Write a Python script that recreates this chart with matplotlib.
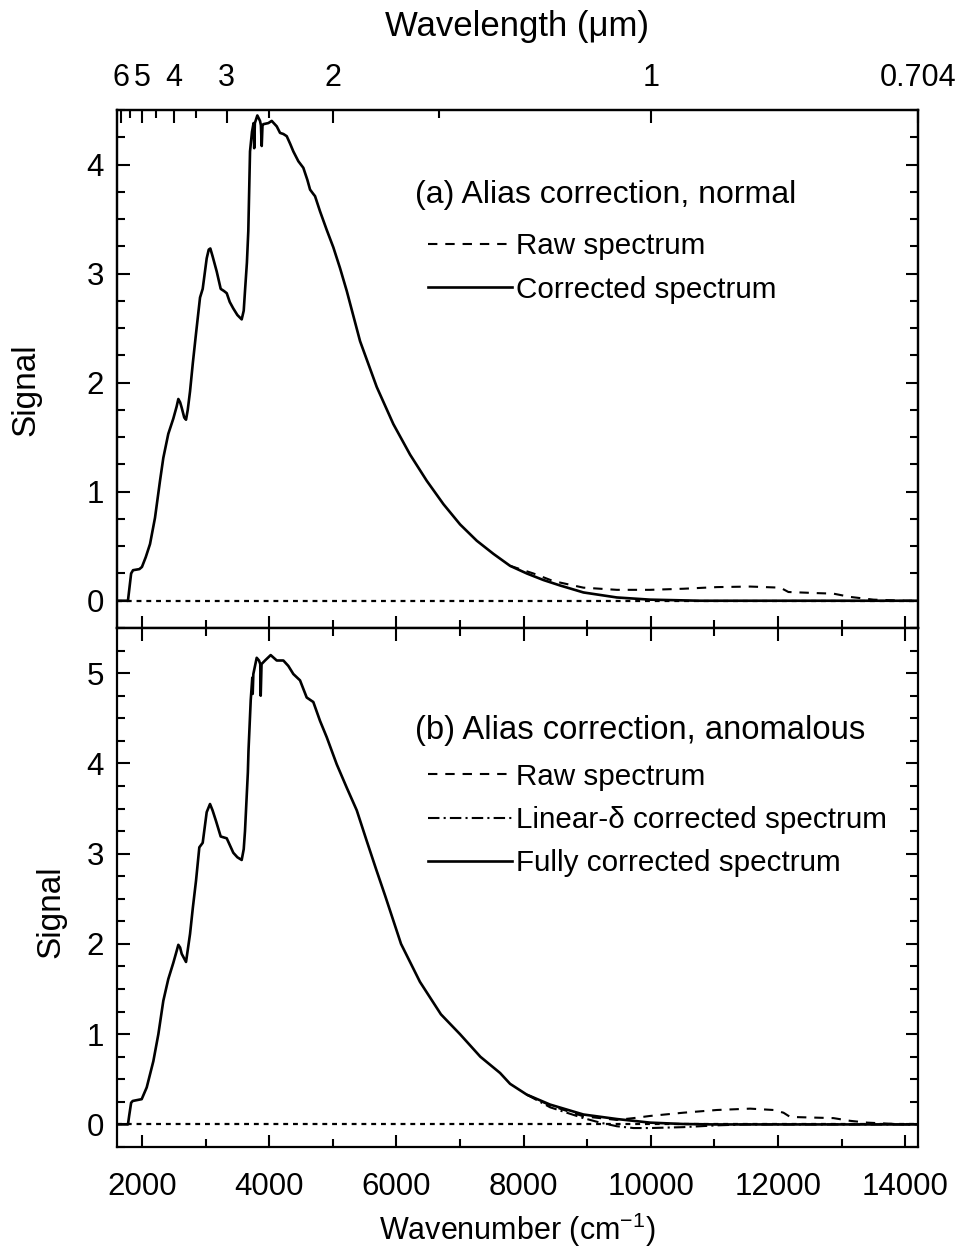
import numpy as np
import matplotlib
matplotlib.use("Agg")
import matplotlib.pyplot as plt
from matplotlib.ticker import MultipleLocator, FixedLocator, NullFormatter

plt.rcParams['font.family'] = ['Liberation Sans', 'DejaVu Sans']
plt.rcParams['mathtext.default'] = 'regular'

# ---------------- data ----------------
# (a) normal: corrected spectrum
a_corr_x = [1600, 1780, 1800, 1830, 1860, 1960, 2000, 2060, 2127, 2205, 2284, 2336, 2414, 2493,
            2545, 2572, 2600, 2625, 2665, 2693, 2720, 2756, 2800, 2850, 2913, 2955, 3018, 3050,
            3075, 3110, 3175, 3238, 3290, 3333, 3380, 3436, 3500, 3568, 3600, 3620, 3650, 3672,
            3699, 3730, 3755, 3765, 3775, 3814, 3856, 3870, 3883, 3895, 3908, 3987, 4040, 4119,
            4171, 4223, 4276, 4330, 4380, 4459, 4537, 4600, 4643, 4694, 4721, 4800, 4905, 5009,
            5114, 5220, 5429, 5691, 5952, 6215, 6477, 6739, 7001, 7264, 7525, 7787, 8050, 8311,
            8573, 8940, 9465, 9988, 10775, 14204.5]
a_corr_y = [0, 0, 0.10, 0.25, 0.28, 0.29, 0.31, 0.40, 0.52, 0.76, 1.10, 1.31, 1.53, 1.67,
            1.78, 1.85, 1.82, 1.77, 1.68, 1.66, 1.75, 1.92, 2.18, 2.45, 2.78, 2.86, 3.14, 3.22,
            3.23, 3.16, 3.02, 2.86, 2.84, 2.82, 2.74, 2.68, 2.62, 2.58, 2.66, 2.84, 3.10, 3.39,
            4.12, 4.30, 4.38, 4.15, 4.38, 4.45, 4.40, 4.36, 4.17, 4.36, 4.37, 4.38, 4.40, 4.35,
            4.29, 4.28, 4.26, 4.19, 4.12, 4.03, 3.97, 3.86, 3.77, 3.73, 3.71, 3.57, 3.40, 3.24,
            3.05, 2.84, 2.38, 1.96, 1.62, 1.34, 1.10, 0.886, 0.70, 0.55, 0.43, 0.32, 0.25, 0.19,
            0.14, 0.076, 0.03, 0.01, 0.0, 0.0]

# (a) normal: raw spectrum (deviates at high wavenumber)
a_raw_x = [7787, 8154, 8468, 8940, 9465, 9988, 10512, 11037, 11561, 12033, 12100, 12163,
           12609, 12871, 13133, 13500, 14000, 14204.5]
a_raw_y = [0.32, 0.25, 0.18, 0.12, 0.10, 0.10, 0.11, 0.125, 0.13, 0.12, 0.10, 0.08,
           0.07, 0.065, 0.035, 0.01, 0.0, 0.0]

# (b) anomalous: fully corrected spectrum
b_full_x = [1600, 1780, 1800, 1830, 1855, 1996, 2075, 2179, 2258, 2336, 2414, 2493, 2545,
            2572, 2600, 2625, 2693, 2756, 2800, 2850, 2902, 2955, 3018, 3070, 3110, 3165,
            3238, 3333, 3436, 3500, 3568, 3600, 3620, 3665, 3675, 3710, 3735, 3741, 3751,
            3804, 3840, 3860, 3867, 3880, 3935, 4024, 4119, 4223, 4301, 4380, 4485, 4590,
            4694, 4800, 4905, 5062, 5220, 5377, 5534, 5680, 5825, 6073, 6370, 6700, 7000,
            7320, 7630, 7787, 8050, 8416, 8940, 9465, 9988, 10500, 11000, 14204.5]
b_full_y = [0, 0, 0.10, 0.24, 0.26, 0.28, 0.41, 0.70, 1.00, 1.37, 1.61, 1.79, 1.92,
            1.99, 1.96, 1.89, 1.80, 2.11, 2.40, 2.70, 3.07, 3.12, 3.46, 3.55, 3.48, 3.36,
            3.19, 3.17, 3.01, 2.96, 2.93, 3.05, 3.25, 3.90, 4.14, 4.70, 4.95, 4.77, 4.99,
            5.17, 5.14, 5.10, 4.75, 5.10, 5.14, 5.20, 5.14, 5.14, 5.08, 4.99, 4.92, 4.73,
            4.68, 4.47, 4.29, 3.99, 3.73, 3.48, 3.14, 2.83, 2.53, 2.00, 1.58, 1.22, 1.00,
            0.75, 0.57, 0.45, 0.33, 0.22, 0.11, 0.06, 0.02, 0.005, 0.0, 0.0]

# (b) anomalous: linear-delta corrected spectrum
b_lin_x = [8050, 8416, 8940, 9203, 9465, 9727, 9988, 10512, 11037, 11500, 14204.5]
b_lin_y = [0.33, 0.19, 0.07, 0.02, -0.02, -0.04, -0.04, -0.03, -0.01, 0.0, 0.0]

# (b) anomalous: raw spectrum
b_raw_x = [8050, 8416, 8940, 9465, 9727, 9988, 10512, 11037, 11561, 11928, 12085, 12190,
           12609, 12871, 13133, 13400, 14000, 14204.5]
b_raw_y = [0.33, 0.21, 0.09, 0.05, 0.07, 0.094, 0.13, 0.16, 0.175, 0.16, 0.13, 0.083,
           0.075, 0.07, 0.04, 0.02, 0.0, 0.0]

wl_major = [6, 5, 4, 3, 2, 1, 0.704]
wl_major_labels = ['6', '5', '4', '3', '2', '1', '0.704']
wl_minor = [5.5, 4.5, 3.5, 2.5, 1.5]

XMIN, XMAX = 1600, 1e4 / 0.704

# ---------------- figure ----------------
FS_TITLE = 23
FS_LEG = 21.3
fig = plt.figure(figsize=(9.57, 12.5), dpi=100)
L, R = 116.5 / 957, 918.3 / 957
ax1 = fig.add_axes([L, 1 - 628 / 1250, R - L, (628 - 110) / 1250])
ax2 = fig.add_axes([L, 1 - 1147 / 1250, R - L, (1147 - 628) / 1250])

lw = 1.9
raw_ls = (0, (4.5, 3.8))
dd_ls = (0, (5.5, 2, 1, 2))
dot_ls = (0, (2.2, 2.2))

# panel (a)
ax1.plot([XMIN, XMAX], [0, 0], color='black', lw=1.6, ls=dot_ls)
h_raw_a, = ax1.plot(a_raw_x, a_raw_y, color='black', lw=1.5, ls=raw_ls, label='Raw spectrum')
h_cor_a, = ax1.plot(a_corr_x, a_corr_y, color='black', lw=lw, label='Corrected spectrum')
ax1.set_ylim(-0.25, 4.5)

# panel (b)
ax2.plot([XMIN, XMAX], [0, 0], color='black', lw=1.6, ls=dot_ls)
h_raw_b, = ax2.plot(b_raw_x, b_raw_y, color='black', lw=1.5, ls=raw_ls, label='Raw spectrum')
h_lin_b, = ax2.plot(b_lin_x, b_lin_y, color='black', lw=1.5, ls=dd_ls,
                    label='Linear-δ corrected spectrum')
h_full_b, = ax2.plot(b_full_x, b_full_y, color='black', lw=lw, label='Fully corrected spectrum')
ax2.set_ylim(-0.25, 5.5)

for ax in (ax1, ax2):
    ax.set_xlim(XMIN, XMAX)
    ax.xaxis.set_major_locator(MultipleLocator(2000))
    ax.xaxis.set_minor_locator(MultipleLocator(1000))
    ax.yaxis.set_major_locator(MultipleLocator(1))
    ax.yaxis.set_minor_locator(MultipleLocator(0.25))
    for s in ax.spines.values():
        s.set_linewidth(1.6)
    ax.tick_params(which='both', direction='in', width=1.5, labelsize=22.5)
    ax.tick_params(which='major', length=9)
    ax.tick_params(which='minor', length=5.5)
    ax.tick_params(axis='y', which='both', left=True, right=True, pad=9)
    ax.set_ylabel('Signal', fontsize=24)

ax1.tick_params(axis='x', which='both', top=False, bottom=True, labelbottom=False)
ax2.tick_params(axis='x', which='both', top=True, bottom=True, labelbottom=True, pad=18)
ax2.set_xlabel('Wavenumber (cm$^{-1}$)', fontsize=22, labelpad=6)

ax1.yaxis.set_label_coords(-0.093, 0.46)
ax2.yaxis.set_label_coords(-0.062, 0.453)

# top wavelength axis
axt = ax1.twiny()
axt.set_xlim(XMIN, XMAX)
axt.xaxis.set_major_locator(FixedLocator([1e4 / w for w in wl_major]))
axt.set_xticklabels(wl_major_labels)
axt.xaxis.set_minor_locator(FixedLocator([1e4 / w for w in wl_minor]))
axt.xaxis.set_minor_formatter(NullFormatter())
axt.tick_params(which='both', direction='in', width=1.5, labelsize=22, pad=12)
axt.tick_params(which='major', length=9)
axt.tick_params(which='minor', length=5.5)
axt.set_xlabel('Wavelength (μm)', fontsize=25, labelpad=20)
for s in axt.spines.values():
    s.set_linewidth(1.6)

# legend titles as text, legends indented slightly
TX = (415 - 116.5) / 801.8
LX = (428 - 116.5) / 801.8
ax1.text(TX, 0.836, '(a) Alias correction, normal', transform=ax1.transAxes,
         fontsize=FS_TITLE, ha='left', va='center')
ax2.text(TX, 0.802, '(b) Alias correction, anomalous', transform=ax2.transAxes,
         fontsize=FS_TITLE + 0.6, ha='left', va='center')

leg_kw = dict(frameon=False, fontsize=FS_LEG, handlelength=2.85, handletextpad=0.14,
              labelspacing=0.52, borderpad=0, borderaxespad=0, loc='center left')
ax1.legend(handles=[h_raw_a, h_cor_a], bbox_to_anchor=(LX, 0.695), **leg_kw)
ax2.legend(handles=[h_raw_b, h_lin_b, h_full_b], bbox_to_anchor=(LX, 0.63), **leg_kw)

fig.savefig('out.png', dpi=100)
